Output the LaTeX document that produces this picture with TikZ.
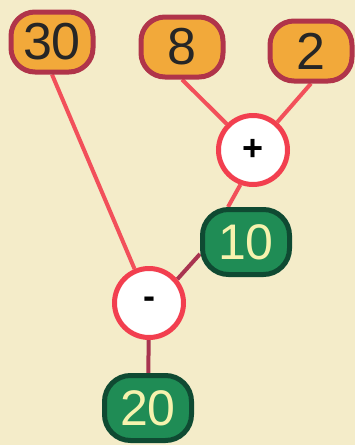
\documentclass[tikz,border=0pt]{standalone}
\usepackage{fontspec}
\setmainfont{Liberation Sans}
\usetikzlibrary{backgrounds}
\definecolor{paper}{HTML}{F4ECC9}
\definecolor{boxfill}{HTML}{F2A93A}
\definecolor{boxrim}{HTML}{B0344A}
\definecolor{wire}{HTML}{F2505A}
\definecolor{wiredark}{HTML}{A83450}
\definecolor{ringred}{HTML}{F23F4F}
\definecolor{greenfill}{HTML}{1F8C55}
\definecolor{greenrim}{HTML}{0F4A32}
\definecolor{greentext}{HTML}{F6F2AE}
\begin{document}
\begin{tikzpicture}[x=1pt, y=-1pt]
  \tikzset{
    numbox/.style={rectangle, rounded corners=24pt, draw=boxrim, fill=boxfill, line width=5pt,
                   minimum width=82pt, minimum height=60pt, text=black!85,
                   font=\fontsize{52}{52}\selectfont},
    resbox/.style={rectangle, rounded corners=26pt, draw=greenrim, fill=greenfill, line width=5pt,
                   minimum width=87pt, minimum height=65pt, text=greentext,
                   font=\fontsize{50}{50}\selectfont},
    opcirc/.style={circle, draw=ringred, fill=white, line width=5pt, minimum size=69pt,
                   inner sep=0pt, font=\bfseries\fontsize{36}{36}\selectfont},
    wire/.style={draw=wire, line width=4pt},
    darkwire/.style={draw=wiredark, line width=4pt},
  }
  \useasboundingbox (0,0) rectangle (355,445);
  % Numbers (top row)
  \node[numbox] (num30) at (52,42) {30};
  \node[numbox] (num8)  at (182,47) {8};
  \node[numbox] (num2)  at (311,51) {2};
  % Operations
  \node[opcirc] (add) at (253,150) {+};
  \node[opcirc] (sub) at (149,303) {-};
  % Results
  \node[resbox] (sum) at (246,242) {10};
  \node[resbox] (res) at (148,408) {20};
  % Connectors
  \begin{pgfonlayer}{background}
    \fill[paper] (0,0) rectangle (355,445);
    \draw[wire] (num30.south) -- (sub);
    \draw[wire] (num8.south) -- (add);
    \draw[wire] (num2.south) -- (add);
    \draw[wire] (add.250) -- ([xshift=-18pt]sum.north);
    \draw[darkwire] (sub.40) -- ([yshift=-12pt]sum.west);
    \draw[darkwire] (sub) -- (res);
  \end{pgfonlayer}
\end{tikzpicture}
\end{document}
